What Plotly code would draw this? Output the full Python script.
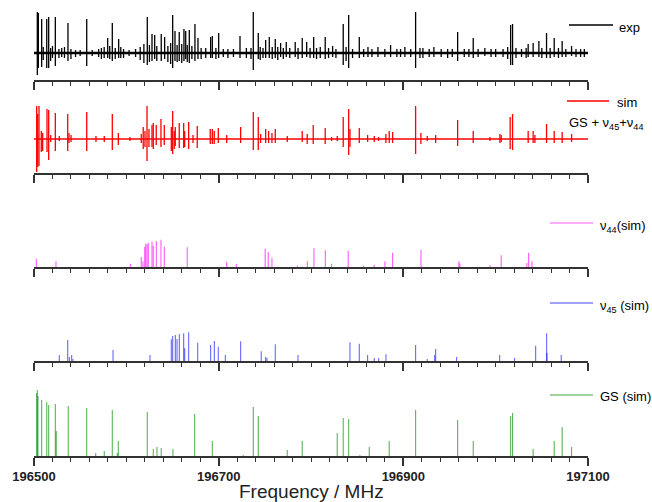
import plotly.graph_objects as go

# ---------------- data (frequency in MHz, intensity in arb. units) ----------------
# experimental spectrum: line position, positive lobe, negative lobe
exp_freq = [196503.6, 196504.7, 196508.3, 196513.8, 196515.9, 196523.1, 196536.8, 196557.1,
            196579.8, 196584.8, 196591.7, 196622.7, 196627.8, 196630.7, 196637.8, 196641.5,
            196650.2, 196652.7, 196657.3, 196662.4, 196664.3, 196668.2, 196674.3, 196677.6,
            196691.3, 196693.1, 196700.0, 196723.1, 196737.5, 196742.9, 196750.9, 196754.8,
            196761.3, 196767.1, 196773.2, 196782.9, 196790.5, 196795.3, 196802.9, 196815.4,
            196823.4, 196834.9, 196840.8, 196852.3, 196861.7, 196872.5, 196886.2, 196901.7,
            196913.3, 196921.2, 196933.1, 196958.8, 196975.7, 196988.3, 197016.2, 197018.3,
            197035.2, 197040.6, 197046.8, 197055.1, 197063.4, 197072.0, 197082.2,
            196510, 196518, 196520, 196527, 196530, 196533, 196540, 196545, 196550, 196563,
            196570, 196573, 196576, 196582, 196588, 196594, 196597, 196603, 196610, 196615,
            196619, 196625, 196633, 196645, 196648, 196655, 196660, 196666, 196671, 196681,
            196686, 196697, 196705, 196710, 196716, 196730, 196735, 196745, 196748, 196758,
            196764, 196770, 196777, 196786, 196799, 196806, 196810, 196819, 196827, 196838,
            196845, 196857, 196866, 196880, 196893, 196897, 196908, 196918, 196928, 196941,
            196948, 196953, 196966, 196971, 196981, 196995, 197000, 197008, 197013, 197022,
            197028, 197033, 197050, 197059, 197068, 197076, 197087, 197092, 197096]
exp_up = [41, 40, 34, 34, 36, 36, 30, 34, 15, 30, 14, 36, 19, 18, 19, 16,
          38, 22, 21, 24, 22, 23, 29, 15, 16, 17, 20, 17, 41, 20, 13, 16,
          14, 10, 11, 11, 15, 11, 16, 16, 7, 29, 38, 16, 6, 6, 8, 6,
          41, 5, 6, 21, 15, 5, 28, 29, 9, 10, 12, 20, 15, 12, 7,
          6, 5, 7, 4, 5, 6, 4, 3, 3, 3, 4, 5, 6, 7, 5, 6, 4, 3, 4, 6,
          9, 8, 7, 7, 10, 8, 9, 8, 7, 5, 5, 5, 4, 4, 4, 5, 5, 6, 5, 6,
          6, 5, 5, 5, 5, 5, 6, 5, 4, 6, 4, 4, 4, 4, 4, 4, 4, 5, 4, 4,
          4, 4, 4, 4, 4, 4, 4, 4, 6, 5, 4, 5, 5, 5, 5, 4, 4, 4, 4]
exp_down = [22, 15, 14, 15, 15, 13, 8, 13, 5, 8, 5, 12, 8, 6, 8, 6,
            15, 8, 8, 8, 6, 10, 8, 6, 5, 5, 5, 5, 17, 6, 5, 5,
            5, 4, 4, 4, 5, 4, 5, 6, 4, 12, 15, 5, 4, 4, 4, 4,
            15, 5, 4, 8, 5, 3, 12, 12, 4, 4, 4, 5, 4, 4, 3,
            7, 8, 5, 5, 4, 5, 6, 4, 3, 3, 4, 6, 5, 6, 6, 5, 5, 3, 4, 7,
            10, 9, 8, 9, 11, 9, 10, 9, 6, 6, 5, 6, 4, 5, 4, 5, 6, 7, 5, 6,
            7, 6, 5, 6, 5, 6, 5, 5, 5, 8, 5, 4, 4, 4, 4, 4, 4, 5, 4, 4,
            5, 4, 4, 4, 4, 4, 4, 4, 6, 5, 4, 5, 5, 5, 5, 4, 4, 4, 4]

# simulated spectrum GS + v45 + v44
sim_freq = [196502.9, 196504.0, 196505.4, 196507.9, 196509.4, 196514.1, 196515.9, 196518.1,
            196523.1, 196527.4, 196536.5, 196537.9, 196540.1, 196557.1, 196567.1, 196576.1,
            196584.8, 196591.3, 196603.9, 196616.2, 196618.3, 196620.2, 196622.4, 196624.5,
            196627.8, 196629.2, 196632.4, 196637.5, 196641.1, 196648.7, 196650.2, 196651.9,
            196653.0, 196657.3, 196662.1, 196663.2, 196667.5, 196672.2, 196676.8, 196690.9,
            196693.1, 196695.2, 196699.6, 196708.7, 196723.8, 196737.5, 196742.9, 196745.5,
            196750.9, 196754.1, 196757.7, 196761.3, 196774.3, 196790.5, 196795.9, 196802.4,
            196815.4, 196822.3, 196828.4, 196834.9, 196840.8, 196842.2, 196852.3, 196861.3,
            196868.5, 196873.2, 196881.1, 196884.7, 196888.4, 196913.3, 196919.0, 196925.9,
            196935.0, 196958.8, 196975.7, 196993.8, 197004.6, 197006.0, 197015.7, 197018.3,
            197035.2, 197040.6, 197042.5, 197055.1, 197063.4, 197072.0, 197082.2]
sim_up = [33, 25, 33, 8, 6, 30, 29, 4, 26, 3, 25, 6, 4, 27, 3, 3,
          25, 6, 2, 5, 12, 8, 33, 10, 14, 16, 14, 20, 14, 12, 28, 8,
          12, 16, 16, 8, 17, 4, 13, 10, 10, 8, 11, 4, 12, 27, 22, 5,
          10, 8, 6, 10, 3, 8, 5, 14, 11, 2, 3, 22, 30, 10, 11, 4,
          3, 2, 5, 8, 7, 33, 6, 3, 4, 19, 8, 2, 5, 4, 22, 25,
          8, 8, 4, 15, 8, 7, 5]
sim_down = [33, 28, 27, 13, 12, 13, 21, 3, 12, 2, 12, 4, 3, 12, 3, 3,
            11, 6, 2, 4, 10, 8, 22, 8, 8, 10, 6, 8, 6, 12, 15, 10,
            7, 9, 9, 8, 10, 4, 9, 5, 5, 5, 4, 4, 4, 11, 11, 4,
            4, 4, 4, 4, 3, 3, 5, 5, 5, 2, 2, 8, 16, 8, 4, 3,
            3, 2, 4, 4, 4, 15, 5, 2, 4, 7, 4, 2, 4, 3, 10, 11,
            4, 4, 4, 4, 4, 4, 3]

# v44 stick spectrum
v44_freq = [196502.5, 196523.8, 196604.3, 196616.2, 196618.0, 196619.9, 196621.0, 196622.4,
            196623.8, 196627.8, 196629.2, 196632.5, 196637.5, 196641.1, 196666.0, 196708.7,
            196719.1, 196750.4, 196753.7, 196757.7, 196785.5, 196796.0, 196803.2, 196815.5,
            196822.3, 196840.3, 196856.6, 196868.5, 196880.1, 196888.4, 196919.1, 196960.2,
            196961.2, 196993.8, 197006.0, 197033.8, 197035.7, 197039.3]
v44_int = [8.3, 5.7, 3.3, 10, 5.7, 20, 23.3, 22.7,
           24.3, 25.3, 21, 26, 27.3, 20.3, 19.7, 5.3,
           3, 18.3, 15, 9.3, 1.5, 5.7, 18.7, 16.7,
           3.3, 16, 1.5, 2.3, 5.7, 14.3, 17.3, 5.7,
           3.5, 2, 11.7, 4, 14.3, 5.7]

# v45 stick spectrum
v45_freq = [196527.4, 196536.5, 196538.3, 196540.8, 196542.2, 196585.6, 196625.6, 196648.7,
            196650.2, 196653.1, 196654.9, 196657.4, 196662.1, 196663.2, 196667.5, 196677.3,
            196691.3, 196695.3, 196699.6, 196707.2, 196723.8, 196746.1, 196750.9, 196752.3,
            196761.3, 196785.9, 196842.2, 196852.3, 196861.3, 196868.5, 196873.3, 196881.2,
            196913.3, 196925.9, 196933.9, 196935.0, 196957.7, 197004.3, 197020.5, 197043.3,
            197055.2, 197055.6, 197071.0]
v45_int = [6, 21, 4, 6, 2, 11, 6, 21.7,
           25, 26, 22, 27, 27.7, 12.7, 28.7, 18.3,
           16, 20, 14.3, 6, 19.7, 9.7, 4, 3,
           16.7, 6, 18.7, 17.3, 6, 3, 3, 6.7,
           16, 2, 6, 12, 4, 6, 3, 15.3,
           27.7, 8, 6]

# ground state stick spectrum
gs_freq = [196502.9, 196503.6, 196504.3, 196508.3, 196513.8, 196515.9, 196523.1, 196524.1,
           196537.1, 196557.1, 196566.8, 196576.1, 196584.8, 196590.2, 196591.3, 196622.7,
           196629.2, 196633.2, 196637.8, 196650.5, 196674.0, 196693.1, 196726.6, 196737.5,
           196742.9, 196774.3, 196790.5, 196828.4, 196834.9, 196840.8, 196853.0, 196863.1,
           196884.7, 196913.3, 196958.8, 196975.7, 197016.2, 197018.3, 197040.6, 197063.4,
           197072.0, 197082.2]
gs_int = [63, 66, 60, 56, 54, 51, 52, 25,
          50, 48, 3, 5, 46, 3, 15, 44,
          7, 9, 8, 7, 42, 15, 1, 49,
          40, 6, 15, 23, 38, 37, 1, 9,
          15, 46, 36, 15, 40, 43, 7, 15,
          29, 9]

x_range = [196500, 197100]
tick_start, major_step, minor_step = 196500, 200, 20

# ---------------- layout geometry ----------------
W, H = 652, 502
ML, MR, MT, MB = 34, 64, 0, 46
PW, PH = W - ML - MR, H - MT - MB


def py(p):
    """pixel row (from top) -> paper y"""
    return (PH - (p - MT)) / PH


def px(p):
    """pixel column -> paper x"""
    return (p - ML) / PW


# panel: (top px, bottom px, y range)
panels = [
    (0, 80, [-27, 53]),
    (90, 173, [-34, 49]),
    (200, 267, [0, 67]),
    (290, 361, [0, 71]),
    (380, 456, [0, 76]),
]

AX = "#333333"
FONT = "Liberation Sans, Arial, sans-serif"


def sticks(freqs, up, down=None):
    xs, ys = [], []
    for i, f in enumerate(freqs):
        lo = -down[i] if down is not None else 0
        xs += [f, f, None]
        ys += [lo, up[i], None]
    return xs, ys


fig = go.Figure()

# exp
xs, ys = sticks(exp_freq, exp_up, exp_down)
fig.add_trace(go.Scatter(x=x_range, y=[0, 0], mode="lines", line=dict(color="black", width=2.6),
                         xaxis="x", yaxis="y", hoverinfo="skip"))
fig.add_trace(go.Scatter(x=xs, y=ys, mode="lines", line=dict(color="black", width=1.3),
                         xaxis="x", yaxis="y"))
# sim
xs, ys = sticks(sim_freq, sim_up, sim_down)
fig.add_trace(go.Scatter(x=x_range, y=[0, 0], mode="lines", line=dict(color="red", width=1.3),
                         xaxis="x2", yaxis="y2", hoverinfo="skip"))
fig.add_trace(go.Scatter(x=xs, y=ys, mode="lines", line=dict(color="red", width=1.3),
                         xaxis="x2", yaxis="y2"))
# v44
xs, ys = sticks(v44_freq, v44_int)
fig.add_trace(go.Scatter(x=xs, y=ys, mode="lines", line=dict(color="rgba(255,0,255,0.65)", width=1.1),
                         xaxis="x3", yaxis="y3"))
# v45
xs, ys = sticks(v45_freq, v45_int)
fig.add_trace(go.Scatter(x=xs, y=ys, mode="lines", line=dict(color="rgba(0,0,255,0.6)", width=1.1),
                         xaxis="x4", yaxis="y4"))
# GS
xs, ys = sticks(gs_freq, gs_int)
fig.add_trace(go.Scatter(x=xs, y=ys, mode="lines", line=dict(color="rgba(0,140,0,0.65)", width=1.1),
                         xaxis="x5", yaxis="y5"))

layout = dict(
    width=W, height=H, margin=dict(l=ML, r=MR, t=MT, b=MB),
    paper_bgcolor="white", plot_bgcolor="white", showlegend=False,
    font=dict(family=FONT, color="black"),
)

for i, (top, bot, yr) in enumerate(panels, start=1):
    sfx = "" if i == 1 else str(i)
    last = i == len(panels)
    layout["xaxis" + sfx] = dict(
        domain=[0, 1], range=x_range, anchor="y" + sfx,
        showline=True, linecolor=AX, linewidth=1.6, mirror=False,
        showgrid=False, zeroline=False,
        ticks="outside", tick0=tick_start, dtick=major_step, ticklen=8, tickwidth=1.6, tickcolor=AX,
        minor=dict(tick0=tick_start, dtick=minor_step, ticks="outside", ticklen=4, tickwidth=1.4,
                   tickcolor=AX, showgrid=False),
        showticklabels=last, tickformat="d",
        tickfont=dict(family=FONT, size=13, color="#222", weight="bold"),
    )
    layout["yaxis" + sfx] = dict(domain=[py(bot), py(top)], range=yr, anchor="x" + sfx,
                                 visible=False, fixedrange=True)

fig.update_layout(**layout)

# legend samples and labels at the right of each panel
legend = [
    (569, 613, 25, "black", "exp", 617, 27),
    (567, 609, 101, "red", "sim", 615, 102),
    (550, 593, 223, "rgba(255,0,255,0.45)", "ν<sub>44</sub>(sim)", 598, 226),
    (550, 593, 303, "rgba(0,0,255,0.5)", "ν<sub>45</sub> (sim)", 598, 306),
    (550, 593, 395, "rgba(0,140,0,0.5)", "GS (sim)", 598, 396),
]
for x0, x1, yl, col, txt, tx, ty in legend:
    fig.add_shape(type="line", xref="paper", yref="paper", x0=px(x0), x1=px(x1), y0=py(yl), y1=py(yl),
                  line=dict(color=col, width=1.3))
    fig.add_annotation(text=txt, xref="paper", yref="paper", x=px(tx), y=py(ty), xanchor="left",
                       yanchor="middle", showarrow=False, font=dict(family=FONT, size=13, color="black"))

fig.add_annotation(text="GS + ν<sub>45</sub>+ν<sub>44</sub>", xref="paper", yref="paper",
                   x=px(567), y=py(124), xanchor="left", yanchor="middle", showarrow=False,
                   font=dict(family=FONT, size=13, color="black"))

fig.add_annotation(text="Frequency / MHz", xref="paper", yref="paper", x=0.5, y=py(491),
                   xanchor="center", yanchor="middle", showarrow=False,
                   font=dict(family=FONT, size=19, color="#222"))

fig.write_html("out.html")
